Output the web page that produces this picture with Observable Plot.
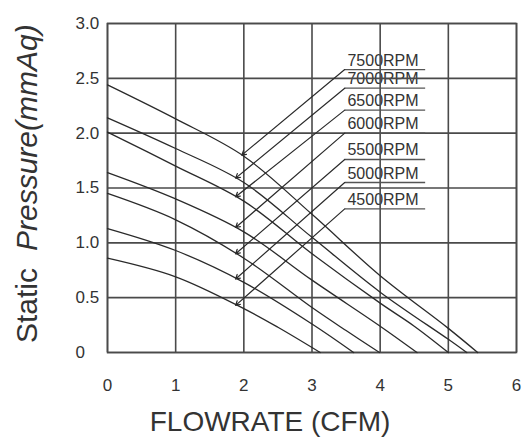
<!DOCTYPE html>
<html><head><meta charset="utf-8">
<script src="https://cdn.jsdelivr.net/npm/d3@7"></script>
<script src="https://cdn.jsdelivr.net/npm/@observablehq/plot@0.6"></script>
<style>body{margin:0;background:#fff} #chart svg{display:block}</style>
</head><body><div id="chart"></div>
<script>
// Fan curves: flow (CFM) vs static pressure (mmAq)
const rpms = [7500, 7000, 6500, 6000, 5500, 5000, 4500];
const flow7500 = [0, 1, 2, 3, 4, 5, 5.43];
const press7500 = [2.44, 2.13, 1.79, 1.26, 0.70, 0.22, 0];
const flow7000 = [0, 1, 2, 3, 4, 5, 5.27];
const press7000 = [2.14, 1.86, 1.55, 1.05, 0.55, 0.12, 0];
const flow6500 = [0, 1, 2, 3, 4, 4.5, 5.0];
const press6500 = [2.01, 1.70, 1.38, 0.90, 0.45, 0.24, 0];
const flow6000 = [0, 1, 2, 3, 4, 4.54];
const press6000 = [1.64, 1.40, 1.10, 0.66, 0.24, 0];
const flow5500 = [0, 1, 2, 3, 3.5, 3.99];
const press5500 = [1.45, 1.21, 0.86, 0.41, 0.20, 0];
const flow5000 = [0, 1, 2, 3, 3.61];
const press5000 = [1.13, 0.93, 0.64, 0.26, 0];
const flow4500 = [0, 1, 2, 2.5, 3.12];
const press4500 = [0.86, 0.69, 0.40, 0.23, 0];

// Callout labels
const rpmLabels = ["7500RPM", "7000RPM", "6500RPM", "6000RPM", "5500RPM", "5000RPM", "4500RPM"];
const labelY = [2.58, 2.41, 2.21, 2.00, 1.76, 1.55, 1.31];
const leaderTipX = [1.97, 1.88, 1.88, 1.88, 1.88, 1.88, 1.88];
const leaderTipY = [1.80, 1.59, 1.42, 1.14, 0.90, 0.67, 0.43];
const labelStartX = 3.48, labelEndX = 4.66, labelTextX = 3.52;

const xTicks = [0, 1, 2, 3, 4, 5, 6];
const yTicks = [0, 0.5, 1, 1.5, 2, 2.5, 3];
const xTitle = "FLOWRATE (CFM)";
const yTitleA = "Static";
const yTitleB = "Pressure(mmAq)";

const flows = [flow7500, flow7000, flow6500, flow6000, flow5500, flow5000, flow4500];
const presses = [press7500, press7000, press6500, press6000, press5500, press5000, press4500];
const curveRows = rpms.flatMap((r, i) => flows[i].map((f, j) => ({rpm: r, flow: f, pressure: presses[i][j]})));
const labelRows = rpmLabels.map((t, i) => ({text: t, y: labelY[i], tipX: leaderTipX[i], tipY: leaderTipY[i]}));

const ink = "#2a2a2a";
const gridInk = "#4a4a4a";

const chart = Plot.plot({
  width: 523, height: 439,
  marginLeft: 107, marginRight: 7, marginTop: 23, marginBottom: 87,
  style: {fontFamily: "'Liberation Sans', Arial, sans-serif", background: "#fff", color: "#333"},
  x: {domain: [0, 6], ticks: xTicks, label: null},
  y: {domain: [0, 3], ticks: yTicks, label: null},
  marks: [
    Plot.text(labelRows, {x: () => labelTextX, y: "y", text: "text", textAnchor: "start", lineAnchor: "bottom", dy: -4, fontSize: 16, fill: "#333"}),
    Plot.gridX(xTicks, {stroke: gridInk, strokeOpacity: 1, strokeWidth: 1.6}),
    Plot.gridY(yTicks, {stroke: gridInk, strokeOpacity: 1, strokeWidth: 1.6}),
    Plot.frame({stroke: gridInk, strokeWidth: 1.6}),
    Plot.axisX(xTicks, {tickSize: 0, tickPadding: 26, fontSize: 17, label: null}),
    Plot.axisY(yTicks, {tickSize: 0, tickPadding: 0, textAnchor: "start", dx: -32, fontSize: 17, label: null,
      tickFormat: d => d === 0 ? "0" : d.toFixed(1)}),
    Plot.line(curveRows, {x: "flow", y: "pressure", z: "rpm", curve: "catmull-rom", stroke: ink, strokeWidth: 1.3}),
    Plot.link(labelRows, {x1: () => labelStartX, x2: () => labelEndX, y1: "y", y2: "y", stroke: "#555", strokeWidth: 1.3}),
    Plot.arrow(labelRows, {x1: () => labelStartX, y1: "y", x2: "tipX", y2: "tipY", stroke: ink, strokeWidth: 1.2, headLength: 6, bend: 0}),
    Plot.text([yTitleA], {frameAnchor: "left", rotate: -90, textAnchor: "start", lineAnchor: "middle", dx: -80, dy: 155, fontSize: 30, fill: "#333"}),
    Plot.text([yTitleB], {frameAnchor: "left", rotate: -90, textAnchor: "start", lineAnchor: "middle", dx: -80, dy: 63, fontSize: 30, fontStyle: "italic", fill: "#333"}),
    Plot.text([xTitle], {frameAnchor: "bottom", lineAnchor: "middle", dx: -42, dy: 70, fontSize: 28, fill: "#333"})
  ]
});
document.getElementById("chart").appendChild(chart);
</script>
</body></html>
